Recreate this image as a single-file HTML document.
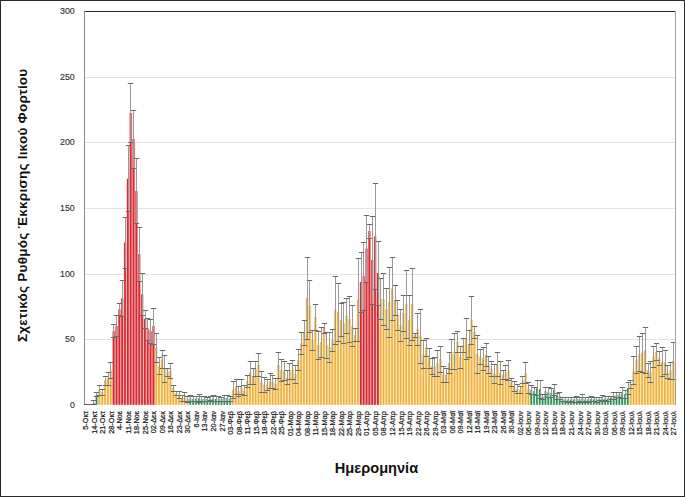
<!DOCTYPE html>
<html><head><meta charset="utf-8"><style>
html,body{margin:0;padding:0;background:#fff;}
svg{display:block;}
text{font-family:"Liberation Sans",sans-serif;}
</style></head><body>
<svg width="685" height="497" viewBox="0 0 685 497">
<rect x="0" y="0" width="685" height="497" fill="#fff"/>
<g stroke="#e3e3e3" stroke-width="1" fill="none"><path d="M84 77.5H675"/><path d="M84 142.5H675"/><path d="M84 208.5H675"/><path d="M84 274.5H675"/><path d="M84 339.5H675"/></g>
<g shape-rendering="auto"><rect x="92.52" y="403.0" width="2.84" height="1.8" fill="#c4f2da"/><rect x="92.87" y="403.0" width="1.59" height="1.8" fill="#2f8a55"/><rect x="95.37" y="394.5" width="2.84" height="10.3" fill="#c4f2da"/><rect x="95.72" y="394.5" width="1.59" height="10.3" fill="#2f8a55"/><rect x="98.21" y="390.5" width="2.84" height="14.3" fill="#fde6a6"/><rect x="98.56" y="390.5" width="1.59" height="14.3" fill="#eeae44"/><rect x="101.05" y="392.0" width="2.84" height="12.8" fill="#fde6a6"/><rect x="101.40" y="392.0" width="1.59" height="12.8" fill="#eeae44"/><rect x="103.89" y="380.5" width="2.84" height="24.3" fill="#fde6a6"/><rect x="104.24" y="380.5" width="1.59" height="24.3" fill="#eeae44"/><rect x="106.73" y="379.0" width="2.84" height="25.8" fill="#fde6a6"/><rect x="107.08" y="379.0" width="1.59" height="25.8" fill="#eeae44"/><rect x="109.57" y="370.5" width="2.84" height="34.3" fill="#fde6a6"/><rect x="109.92" y="370.5" width="1.59" height="34.3" fill="#eeae44"/><rect x="112.41" y="331.0" width="2.84" height="73.8" fill="#f5a8aa"/><rect x="112.76" y="331.0" width="1.70" height="73.8" fill="#d62a32"/><rect x="115.25" y="326.0" width="2.84" height="78.8" fill="#f5a8aa"/><rect x="115.60" y="326.0" width="1.70" height="78.8" fill="#d62a32"/><rect x="118.10" y="309.4" width="2.84" height="95.4" fill="#f5a8aa"/><rect x="118.45" y="309.4" width="1.70" height="95.4" fill="#d62a32"/><rect x="120.94" y="298.3" width="2.84" height="106.5" fill="#f5a8aa"/><rect x="121.29" y="298.3" width="1.70" height="106.5" fill="#d62a32"/><rect x="123.78" y="242.6" width="2.84" height="162.2" fill="#f5a8aa"/><rect x="124.13" y="242.6" width="1.70" height="162.2" fill="#d62a32"/><rect x="126.62" y="178.8" width="2.84" height="226.0" fill="#f5a8aa"/><rect x="126.97" y="178.8" width="1.70" height="226.0" fill="#d62a32"/><rect x="129.46" y="113.0" width="2.84" height="291.8" fill="#f5a8aa"/><rect x="129.81" y="113.0" width="1.70" height="291.8" fill="#d62a32"/><rect x="132.30" y="139.0" width="2.84" height="265.8" fill="#f5a8aa"/><rect x="132.65" y="139.0" width="1.70" height="265.8" fill="#d62a32"/><rect x="135.14" y="191.0" width="2.84" height="213.8" fill="#f5a8aa"/><rect x="135.49" y="191.0" width="1.70" height="213.8" fill="#d62a32"/><rect x="137.99" y="254.0" width="2.84" height="150.8" fill="#f5a8aa"/><rect x="138.34" y="254.0" width="1.70" height="150.8" fill="#d62a32"/><rect x="140.83" y="294.4" width="2.84" height="110.4" fill="#f5a8aa"/><rect x="141.18" y="294.4" width="1.70" height="110.4" fill="#d62a32"/><rect x="143.67" y="319.0" width="2.84" height="85.8" fill="#f5a8aa"/><rect x="144.02" y="319.0" width="1.70" height="85.8" fill="#d62a32"/><rect x="146.51" y="329.0" width="2.84" height="75.8" fill="#f5a8aa"/><rect x="146.86" y="329.0" width="1.70" height="75.8" fill="#d62a32"/><rect x="149.35" y="331.0" width="2.84" height="73.8" fill="#f5a8aa"/><rect x="149.70" y="331.0" width="1.70" height="73.8" fill="#d62a32"/><rect x="152.19" y="326.0" width="2.84" height="78.8" fill="#f5a8aa"/><rect x="152.54" y="326.0" width="1.70" height="78.8" fill="#d62a32"/><rect x="155.03" y="348.0" width="2.84" height="56.8" fill="#fde6a6"/><rect x="155.38" y="348.0" width="1.59" height="56.8" fill="#eeae44"/><rect x="157.88" y="366.0" width="2.84" height="38.8" fill="#fde6a6"/><rect x="158.22" y="366.0" width="1.59" height="38.8" fill="#eeae44"/><rect x="160.72" y="359.3" width="2.84" height="45.5" fill="#fde6a6"/><rect x="161.07" y="359.3" width="1.59" height="45.5" fill="#eeae44"/><rect x="163.56" y="368.8" width="2.84" height="36.0" fill="#fde6a6"/><rect x="163.91" y="368.8" width="1.59" height="36.0" fill="#eeae44"/><rect x="166.40" y="372.0" width="2.84" height="32.8" fill="#fde6a6"/><rect x="166.75" y="372.0" width="1.59" height="32.8" fill="#eeae44"/><rect x="169.24" y="370.8" width="2.84" height="34.0" fill="#fde6a6"/><rect x="169.59" y="370.8" width="1.59" height="34.0" fill="#eeae44"/><rect x="172.08" y="388.0" width="2.84" height="16.8" fill="#fde6a6"/><rect x="172.43" y="388.0" width="1.59" height="16.8" fill="#eeae44"/><rect x="174.92" y="393.4" width="2.84" height="11.4" fill="#fde6a6"/><rect x="175.27" y="393.4" width="1.59" height="11.4" fill="#eeae44"/><rect x="177.76" y="394.7" width="2.84" height="10.1" fill="#fde6a6"/><rect x="178.11" y="394.7" width="1.59" height="10.1" fill="#eeae44"/><rect x="180.61" y="398.0" width="2.84" height="6.8" fill="#fde6a6"/><rect x="180.96" y="398.0" width="1.59" height="6.8" fill="#eeae44"/><rect x="183.45" y="396.8" width="2.84" height="8.0" fill="#fde6a6"/><rect x="183.80" y="396.8" width="1.59" height="8.0" fill="#eeae44"/><rect x="186.29" y="399.0" width="2.84" height="5.8" fill="#fde6a6"/><rect x="186.64" y="399.0" width="1.59" height="5.8" fill="#eeae44"/><rect x="189.13" y="398.4" width="2.84" height="6.4" fill="#c4f2da"/><rect x="189.48" y="398.4" width="1.59" height="6.4" fill="#2f8a55"/><rect x="191.97" y="399.0" width="2.84" height="5.8" fill="#c4f2da"/><rect x="192.32" y="399.0" width="1.59" height="5.8" fill="#2f8a55"/><rect x="194.81" y="398.5" width="2.84" height="6.3" fill="#c4f2da"/><rect x="195.16" y="398.5" width="1.59" height="6.3" fill="#2f8a55"/><rect x="197.65" y="398.5" width="2.84" height="6.3" fill="#c4f2da"/><rect x="198.00" y="398.5" width="1.59" height="6.3" fill="#2f8a55"/><rect x="200.50" y="399.0" width="2.84" height="5.8" fill="#c4f2da"/><rect x="200.85" y="399.0" width="1.59" height="5.8" fill="#2f8a55"/><rect x="203.34" y="398.5" width="2.84" height="6.3" fill="#c4f2da"/><rect x="203.69" y="398.5" width="1.59" height="6.3" fill="#2f8a55"/><rect x="206.18" y="399.0" width="2.84" height="5.8" fill="#c4f2da"/><rect x="206.53" y="399.0" width="1.59" height="5.8" fill="#2f8a55"/><rect x="209.02" y="398.5" width="2.84" height="6.3" fill="#c4f2da"/><rect x="209.37" y="398.5" width="1.59" height="6.3" fill="#2f8a55"/><rect x="211.86" y="398.5" width="2.84" height="6.3" fill="#c4f2da"/><rect x="212.21" y="398.5" width="1.59" height="6.3" fill="#2f8a55"/><rect x="214.70" y="399.0" width="2.84" height="5.8" fill="#c4f2da"/><rect x="215.05" y="399.0" width="1.59" height="5.8" fill="#2f8a55"/><rect x="217.54" y="398.5" width="2.84" height="6.3" fill="#c4f2da"/><rect x="217.89" y="398.5" width="1.59" height="6.3" fill="#2f8a55"/><rect x="220.38" y="399.0" width="2.84" height="5.8" fill="#c4f2da"/><rect x="220.73" y="399.0" width="1.59" height="5.8" fill="#2f8a55"/><rect x="223.23" y="398.0" width="2.84" height="6.8" fill="#c4f2da"/><rect x="223.58" y="398.0" width="1.59" height="6.8" fill="#2f8a55"/><rect x="226.07" y="398.0" width="2.84" height="6.8" fill="#c4f2da"/><rect x="226.42" y="398.0" width="1.59" height="6.8" fill="#2f8a55"/><rect x="228.91" y="398.5" width="2.84" height="6.3" fill="#c4f2da"/><rect x="229.26" y="398.5" width="1.59" height="6.3" fill="#2f8a55"/><rect x="231.75" y="389.8" width="2.84" height="15.0" fill="#fde6a6"/><rect x="232.10" y="389.8" width="1.59" height="15.0" fill="#eeae44"/><rect x="234.59" y="387.4" width="2.84" height="17.4" fill="#fde6a6"/><rect x="234.94" y="387.4" width="1.59" height="17.4" fill="#eeae44"/><rect x="237.43" y="391.0" width="2.84" height="13.8" fill="#fde6a6"/><rect x="237.78" y="391.0" width="1.59" height="13.8" fill="#eeae44"/><rect x="240.27" y="386.7" width="2.84" height="18.1" fill="#fde6a6"/><rect x="240.62" y="386.7" width="1.59" height="18.1" fill="#eeae44"/><rect x="243.12" y="390.5" width="2.84" height="14.3" fill="#fde6a6"/><rect x="243.47" y="390.5" width="1.59" height="14.3" fill="#eeae44"/><rect x="245.96" y="381.4" width="2.84" height="23.4" fill="#fde6a6"/><rect x="246.31" y="381.4" width="1.59" height="23.4" fill="#eeae44"/><rect x="248.80" y="373.0" width="2.84" height="31.8" fill="#fde6a6"/><rect x="249.15" y="373.0" width="1.59" height="31.8" fill="#eeae44"/><rect x="251.64" y="376.0" width="2.84" height="28.8" fill="#fde6a6"/><rect x="251.99" y="376.0" width="1.59" height="28.8" fill="#eeae44"/><rect x="254.48" y="369.0" width="2.84" height="35.8" fill="#fde6a6"/><rect x="254.83" y="369.0" width="1.59" height="35.8" fill="#eeae44"/><rect x="257.32" y="365.0" width="2.84" height="39.8" fill="#fde6a6"/><rect x="257.67" y="365.0" width="1.59" height="39.8" fill="#eeae44"/><rect x="260.16" y="382.0" width="2.84" height="22.8" fill="#fde6a6"/><rect x="260.51" y="382.0" width="1.59" height="22.8" fill="#eeae44"/><rect x="263.00" y="384.8" width="2.84" height="20.0" fill="#fde6a6"/><rect x="263.35" y="384.8" width="1.59" height="20.0" fill="#eeae44"/><rect x="265.85" y="384.8" width="2.84" height="20.0" fill="#fde6a6"/><rect x="266.20" y="384.8" width="1.59" height="20.0" fill="#eeae44"/><rect x="268.69" y="381.4" width="2.84" height="23.4" fill="#fde6a6"/><rect x="269.04" y="381.4" width="1.59" height="23.4" fill="#eeae44"/><rect x="271.53" y="381.8" width="2.84" height="23.0" fill="#fde6a6"/><rect x="271.88" y="381.8" width="1.59" height="23.0" fill="#eeae44"/><rect x="274.37" y="383.8" width="2.84" height="21.0" fill="#fde6a6"/><rect x="274.72" y="383.8" width="1.59" height="21.0" fill="#eeae44"/><rect x="277.21" y="365.0" width="2.84" height="39.8" fill="#fde6a6"/><rect x="277.56" y="365.0" width="1.59" height="39.8" fill="#eeae44"/><rect x="280.05" y="370.3" width="2.84" height="34.5" fill="#fde6a6"/><rect x="280.40" y="370.3" width="1.59" height="34.5" fill="#eeae44"/><rect x="282.89" y="371.0" width="2.84" height="33.8" fill="#fde6a6"/><rect x="283.24" y="371.0" width="1.59" height="33.8" fill="#eeae44"/><rect x="285.74" y="377.7" width="2.84" height="27.1" fill="#fde6a6"/><rect x="286.09" y="377.7" width="1.59" height="27.1" fill="#eeae44"/><rect x="288.58" y="371.3" width="2.84" height="33.5" fill="#fde6a6"/><rect x="288.93" y="371.3" width="1.59" height="33.5" fill="#eeae44"/><rect x="291.42" y="369.8" width="2.84" height="35.0" fill="#fde6a6"/><rect x="291.77" y="369.8" width="1.59" height="35.0" fill="#eeae44"/><rect x="294.26" y="374.3" width="2.84" height="30.5" fill="#fde6a6"/><rect x="294.61" y="374.3" width="1.59" height="30.5" fill="#eeae44"/><rect x="297.10" y="359.8" width="2.84" height="45.0" fill="#fde6a6"/><rect x="297.45" y="359.8" width="1.59" height="45.0" fill="#eeae44"/><rect x="299.94" y="343.4" width="2.84" height="61.4" fill="#fde6a6"/><rect x="300.29" y="343.4" width="1.59" height="61.4" fill="#eeae44"/><rect x="302.78" y="333.0" width="2.84" height="71.8" fill="#fde6a6"/><rect x="303.13" y="333.0" width="1.59" height="71.8" fill="#eeae44"/><rect x="305.62" y="298.0" width="2.84" height="106.8" fill="#fde6a6"/><rect x="305.98" y="298.0" width="1.59" height="106.8" fill="#eeae44"/><rect x="308.47" y="306.0" width="2.84" height="98.8" fill="#fde6a6"/><rect x="308.82" y="306.0" width="1.59" height="98.8" fill="#eeae44"/><rect x="311.31" y="340.0" width="2.84" height="64.8" fill="#fde6a6"/><rect x="311.66" y="340.0" width="1.59" height="64.8" fill="#eeae44"/><rect x="314.15" y="317.0" width="2.84" height="87.8" fill="#fde6a6"/><rect x="314.50" y="317.0" width="1.59" height="87.8" fill="#eeae44"/><rect x="316.99" y="345.0" width="2.84" height="59.8" fill="#fde6a6"/><rect x="317.34" y="345.0" width="1.59" height="59.8" fill="#eeae44"/><rect x="319.83" y="342.0" width="2.84" height="62.8" fill="#fde6a6"/><rect x="320.18" y="342.0" width="1.59" height="62.8" fill="#eeae44"/><rect x="322.67" y="328.0" width="2.84" height="76.8" fill="#fde6a6"/><rect x="323.02" y="328.0" width="1.59" height="76.8" fill="#eeae44"/><rect x="325.51" y="345.0" width="2.84" height="59.8" fill="#fde6a6"/><rect x="325.86" y="345.0" width="1.59" height="59.8" fill="#eeae44"/><rect x="328.36" y="347.0" width="2.84" height="57.8" fill="#fde6a6"/><rect x="328.71" y="347.0" width="1.59" height="57.8" fill="#eeae44"/><rect x="331.20" y="340.0" width="2.84" height="64.8" fill="#fde6a6"/><rect x="331.55" y="340.0" width="1.59" height="64.8" fill="#eeae44"/><rect x="334.04" y="310.0" width="2.84" height="94.8" fill="#fde6a6"/><rect x="334.39" y="310.0" width="1.59" height="94.8" fill="#eeae44"/><rect x="336.88" y="312.0" width="2.84" height="92.8" fill="#fde6a6"/><rect x="337.23" y="312.0" width="1.59" height="92.8" fill="#eeae44"/><rect x="339.72" y="320.0" width="2.84" height="84.8" fill="#fde6a6"/><rect x="340.07" y="320.0" width="1.59" height="84.8" fill="#eeae44"/><rect x="342.56" y="323.0" width="2.84" height="81.8" fill="#fde6a6"/><rect x="342.91" y="323.0" width="1.59" height="81.8" fill="#eeae44"/><rect x="345.40" y="316.0" width="2.84" height="88.8" fill="#fde6a6"/><rect x="345.75" y="316.0" width="1.59" height="88.8" fill="#eeae44"/><rect x="348.25" y="319.0" width="2.84" height="85.8" fill="#fde6a6"/><rect x="348.60" y="319.0" width="1.59" height="85.8" fill="#eeae44"/><rect x="351.09" y="326.0" width="2.84" height="78.8" fill="#fde6a6"/><rect x="351.44" y="326.0" width="1.59" height="78.8" fill="#eeae44"/><rect x="353.93" y="335.0" width="2.84" height="69.8" fill="#fde6a6"/><rect x="354.28" y="335.0" width="1.59" height="69.8" fill="#eeae44"/><rect x="356.77" y="300.0" width="2.84" height="104.8" fill="#fde6a6"/><rect x="357.12" y="300.0" width="1.59" height="104.8" fill="#eeae44"/><rect x="359.61" y="282.0" width="2.84" height="122.8" fill="#f5a8aa"/><rect x="359.96" y="282.0" width="1.70" height="122.8" fill="#d62a32"/><rect x="362.45" y="276.0" width="2.84" height="128.8" fill="#f5a8aa"/><rect x="362.80" y="276.0" width="1.70" height="128.8" fill="#d62a32"/><rect x="365.29" y="248.5" width="2.84" height="156.3" fill="#f5a8aa"/><rect x="365.64" y="248.5" width="1.70" height="156.3" fill="#d62a32"/><rect x="368.13" y="231.0" width="2.84" height="173.8" fill="#f5a8aa"/><rect x="368.48" y="231.0" width="1.70" height="173.8" fill="#d62a32"/><rect x="370.98" y="260.0" width="2.84" height="144.8" fill="#f5a8aa"/><rect x="371.33" y="260.0" width="1.70" height="144.8" fill="#d62a32"/><rect x="373.82" y="236.5" width="2.84" height="168.3" fill="#f5a8aa"/><rect x="374.17" y="236.5" width="1.70" height="168.3" fill="#d62a32"/><rect x="376.66" y="273.0" width="2.84" height="131.8" fill="#f5a8aa"/><rect x="377.01" y="273.0" width="1.70" height="131.8" fill="#d62a32"/><rect x="379.50" y="299.0" width="2.84" height="105.8" fill="#fde6a6"/><rect x="379.85" y="299.0" width="1.59" height="105.8" fill="#eeae44"/><rect x="382.34" y="299.0" width="2.84" height="105.8" fill="#fde6a6"/><rect x="382.69" y="299.0" width="1.59" height="105.8" fill="#eeae44"/><rect x="385.18" y="309.0" width="2.84" height="95.8" fill="#fde6a6"/><rect x="385.53" y="309.0" width="1.59" height="95.8" fill="#eeae44"/><rect x="388.02" y="302.0" width="2.84" height="102.8" fill="#fde6a6"/><rect x="388.37" y="302.0" width="1.59" height="102.8" fill="#eeae44"/><rect x="390.87" y="288.5" width="2.84" height="116.3" fill="#fde6a6"/><rect x="391.22" y="288.5" width="1.59" height="116.3" fill="#eeae44"/><rect x="393.71" y="300.0" width="2.84" height="104.8" fill="#fde6a6"/><rect x="394.06" y="300.0" width="1.59" height="104.8" fill="#eeae44"/><rect x="396.55" y="315.0" width="2.84" height="89.8" fill="#fde6a6"/><rect x="396.90" y="315.0" width="1.59" height="89.8" fill="#eeae44"/><rect x="399.39" y="325.0" width="2.84" height="79.8" fill="#fde6a6"/><rect x="399.74" y="325.0" width="1.59" height="79.8" fill="#eeae44"/><rect x="402.23" y="313.0" width="2.84" height="91.8" fill="#fde6a6"/><rect x="402.58" y="313.0" width="1.59" height="91.8" fill="#eeae44"/><rect x="405.07" y="304.0" width="2.84" height="100.8" fill="#fde6a6"/><rect x="405.42" y="304.0" width="1.59" height="100.8" fill="#eeae44"/><rect x="407.91" y="320.0" width="2.84" height="84.8" fill="#fde6a6"/><rect x="408.26" y="320.0" width="1.59" height="84.8" fill="#eeae44"/><rect x="410.75" y="304.0" width="2.84" height="100.8" fill="#fde6a6"/><rect x="411.10" y="304.0" width="1.59" height="100.8" fill="#eeae44"/><rect x="413.60" y="335.0" width="2.84" height="69.8" fill="#fde6a6"/><rect x="413.95" y="335.0" width="1.59" height="69.8" fill="#eeae44"/><rect x="416.44" y="329.0" width="2.84" height="75.8" fill="#fde6a6"/><rect x="416.79" y="329.0" width="1.59" height="75.8" fill="#eeae44"/><rect x="419.28" y="336.0" width="2.84" height="68.8" fill="#fde6a6"/><rect x="419.63" y="336.0" width="1.59" height="68.8" fill="#eeae44"/><rect x="422.12" y="354.7" width="2.84" height="50.1" fill="#fde6a6"/><rect x="422.47" y="354.7" width="1.59" height="50.1" fill="#eeae44"/><rect x="424.96" y="347.0" width="2.84" height="57.8" fill="#fde6a6"/><rect x="425.31" y="347.0" width="1.59" height="57.8" fill="#eeae44"/><rect x="427.80" y="358.0" width="2.84" height="46.8" fill="#fde6a6"/><rect x="428.15" y="358.0" width="1.59" height="46.8" fill="#eeae44"/><rect x="430.64" y="366.0" width="2.84" height="38.8" fill="#fde6a6"/><rect x="430.99" y="366.0" width="1.59" height="38.8" fill="#eeae44"/><rect x="433.49" y="366.5" width="2.84" height="38.3" fill="#fde6a6"/><rect x="433.84" y="366.5" width="1.59" height="38.3" fill="#eeae44"/><rect x="436.33" y="363.4" width="2.84" height="41.4" fill="#fde6a6"/><rect x="436.68" y="363.4" width="1.59" height="41.4" fill="#eeae44"/><rect x="439.17" y="359.4" width="2.84" height="45.4" fill="#fde6a6"/><rect x="439.52" y="359.4" width="1.59" height="45.4" fill="#eeae44"/><rect x="442.01" y="374.0" width="2.84" height="30.8" fill="#fde6a6"/><rect x="442.36" y="374.0" width="1.59" height="30.8" fill="#eeae44"/><rect x="444.85" y="375.0" width="2.84" height="29.8" fill="#fde6a6"/><rect x="445.20" y="375.0" width="1.59" height="29.8" fill="#eeae44"/><rect x="447.69" y="363.0" width="2.84" height="41.8" fill="#fde6a6"/><rect x="448.04" y="363.0" width="1.59" height="41.8" fill="#eeae44"/><rect x="450.53" y="354.0" width="2.84" height="50.8" fill="#fde6a6"/><rect x="450.88" y="354.0" width="1.59" height="50.8" fill="#eeae44"/><rect x="453.38" y="351.6" width="2.84" height="53.2" fill="#fde6a6"/><rect x="453.73" y="351.6" width="1.59" height="53.2" fill="#eeae44"/><rect x="456.22" y="342.0" width="2.84" height="62.8" fill="#fde6a6"/><rect x="456.57" y="342.0" width="1.59" height="62.8" fill="#eeae44"/><rect x="459.06" y="357.0" width="2.84" height="47.8" fill="#fde6a6"/><rect x="459.41" y="357.0" width="1.59" height="47.8" fill="#eeae44"/><rect x="461.90" y="345.0" width="2.84" height="59.8" fill="#fde6a6"/><rect x="462.25" y="345.0" width="1.59" height="59.8" fill="#eeae44"/><rect x="464.74" y="338.5" width="2.84" height="66.3" fill="#fde6a6"/><rect x="465.09" y="338.5" width="1.59" height="66.3" fill="#eeae44"/><rect x="467.58" y="344.3" width="2.84" height="60.5" fill="#fde6a6"/><rect x="467.93" y="344.3" width="1.59" height="60.5" fill="#eeae44"/><rect x="470.42" y="320.4" width="2.84" height="84.4" fill="#fde6a6"/><rect x="470.77" y="320.4" width="1.59" height="84.4" fill="#eeae44"/><rect x="473.26" y="332.0" width="2.84" height="72.8" fill="#fde6a6"/><rect x="473.61" y="332.0" width="1.59" height="72.8" fill="#eeae44"/><rect x="476.11" y="354.3" width="2.84" height="50.5" fill="#fde6a6"/><rect x="476.46" y="354.3" width="1.59" height="50.5" fill="#eeae44"/><rect x="478.95" y="357.0" width="2.84" height="47.8" fill="#fde6a6"/><rect x="479.30" y="357.0" width="1.59" height="47.8" fill="#eeae44"/><rect x="481.79" y="358.5" width="2.84" height="46.3" fill="#fde6a6"/><rect x="482.14" y="358.5" width="1.59" height="46.3" fill="#eeae44"/><rect x="484.63" y="354.9" width="2.84" height="49.9" fill="#fde6a6"/><rect x="484.98" y="354.9" width="1.59" height="49.9" fill="#eeae44"/><rect x="487.47" y="364.6" width="2.84" height="40.2" fill="#fde6a6"/><rect x="487.82" y="364.6" width="1.59" height="40.2" fill="#eeae44"/><rect x="490.31" y="369.0" width="2.84" height="35.8" fill="#fde6a6"/><rect x="490.66" y="369.0" width="1.59" height="35.8" fill="#eeae44"/><rect x="493.15" y="373.9" width="2.84" height="30.9" fill="#fde6a6"/><rect x="493.50" y="373.9" width="1.59" height="30.9" fill="#eeae44"/><rect x="496.00" y="364.6" width="2.84" height="40.2" fill="#fde6a6"/><rect x="496.35" y="364.6" width="1.59" height="40.2" fill="#eeae44"/><rect x="498.84" y="373.3" width="2.84" height="31.5" fill="#fde6a6"/><rect x="499.19" y="373.3" width="1.59" height="31.5" fill="#eeae44"/><rect x="501.68" y="374.8" width="2.84" height="30.0" fill="#fde6a6"/><rect x="502.03" y="374.8" width="1.59" height="30.0" fill="#eeae44"/><rect x="504.52" y="372.5" width="2.84" height="32.3" fill="#fde6a6"/><rect x="504.87" y="372.5" width="1.59" height="32.3" fill="#eeae44"/><rect x="507.36" y="370.5" width="2.84" height="34.3" fill="#fde6a6"/><rect x="507.71" y="370.5" width="1.59" height="34.3" fill="#eeae44"/><rect x="510.20" y="382.1" width="2.84" height="22.7" fill="#fde6a6"/><rect x="510.55" y="382.1" width="1.59" height="22.7" fill="#eeae44"/><rect x="513.04" y="386.0" width="2.84" height="18.8" fill="#fde6a6"/><rect x="513.39" y="386.0" width="1.59" height="18.8" fill="#eeae44"/><rect x="515.88" y="388.9" width="2.84" height="15.9" fill="#fde6a6"/><rect x="516.23" y="388.9" width="1.59" height="15.9" fill="#eeae44"/><rect x="518.73" y="389.6" width="2.84" height="15.2" fill="#fde6a6"/><rect x="519.08" y="389.6" width="1.59" height="15.2" fill="#eeae44"/><rect x="521.57" y="380.2" width="2.84" height="24.6" fill="#fde6a6"/><rect x="521.92" y="380.2" width="1.59" height="24.6" fill="#eeae44"/><rect x="524.41" y="373.0" width="2.84" height="31.8" fill="#fde6a6"/><rect x="524.76" y="373.0" width="1.59" height="31.8" fill="#eeae44"/><rect x="527.25" y="388.3" width="2.84" height="16.5" fill="#fde6a6"/><rect x="527.60" y="388.3" width="1.59" height="16.5" fill="#eeae44"/><rect x="530.09" y="389.8" width="2.84" height="15.0" fill="#c4f2da"/><rect x="530.44" y="389.8" width="1.59" height="15.0" fill="#2f8a55"/><rect x="532.93" y="391.2" width="2.84" height="13.6" fill="#c4f2da"/><rect x="533.28" y="391.2" width="1.59" height="13.6" fill="#2f8a55"/><rect x="535.77" y="388.3" width="2.84" height="16.5" fill="#c4f2da"/><rect x="536.12" y="388.3" width="1.59" height="16.5" fill="#2f8a55"/><rect x="538.62" y="389.3" width="2.84" height="15.5" fill="#c4f2da"/><rect x="538.97" y="389.3" width="1.59" height="15.5" fill="#2f8a55"/><rect x="541.46" y="396.6" width="2.84" height="8.2" fill="#c4f2da"/><rect x="541.81" y="396.6" width="1.59" height="8.2" fill="#2f8a55"/><rect x="544.30" y="391.2" width="2.84" height="13.6" fill="#c4f2da"/><rect x="544.65" y="391.2" width="1.59" height="13.6" fill="#2f8a55"/><rect x="547.14" y="392.3" width="2.84" height="12.5" fill="#c4f2da"/><rect x="547.49" y="392.3" width="1.59" height="12.5" fill="#2f8a55"/><rect x="549.98" y="392.9" width="2.84" height="11.9" fill="#c4f2da"/><rect x="550.33" y="392.9" width="1.59" height="11.9" fill="#2f8a55"/><rect x="552.82" y="389.8" width="2.84" height="15.0" fill="#c4f2da"/><rect x="553.17" y="389.8" width="1.59" height="15.0" fill="#2f8a55"/><rect x="555.66" y="396.0" width="2.84" height="8.8" fill="#c4f2da"/><rect x="556.01" y="396.0" width="1.59" height="8.8" fill="#2f8a55"/><rect x="558.50" y="396.0" width="2.84" height="8.8" fill="#c4f2da"/><rect x="558.85" y="396.0" width="1.59" height="8.8" fill="#2f8a55"/><rect x="561.35" y="399.0" width="2.84" height="5.8" fill="#c4f2da"/><rect x="561.70" y="399.0" width="1.59" height="5.8" fill="#2f8a55"/><rect x="564.19" y="399.5" width="2.84" height="5.3" fill="#c4f2da"/><rect x="564.54" y="399.5" width="1.59" height="5.3" fill="#2f8a55"/><rect x="567.03" y="399.5" width="2.84" height="5.3" fill="#c4f2da"/><rect x="567.38" y="399.5" width="1.59" height="5.3" fill="#2f8a55"/><rect x="569.87" y="399.5" width="2.84" height="5.3" fill="#c4f2da"/><rect x="570.22" y="399.5" width="1.59" height="5.3" fill="#2f8a55"/><rect x="572.71" y="399.5" width="2.84" height="5.3" fill="#c4f2da"/><rect x="573.06" y="399.5" width="1.59" height="5.3" fill="#2f8a55"/><rect x="575.55" y="399.0" width="2.84" height="5.8" fill="#c4f2da"/><rect x="575.90" y="399.0" width="1.59" height="5.8" fill="#2f8a55"/><rect x="578.39" y="399.5" width="2.84" height="5.3" fill="#c4f2da"/><rect x="578.74" y="399.5" width="1.59" height="5.3" fill="#2f8a55"/><rect x="581.24" y="398.3" width="2.84" height="6.5" fill="#c4f2da"/><rect x="581.59" y="398.3" width="1.59" height="6.5" fill="#2f8a55"/><rect x="584.08" y="399.5" width="2.84" height="5.3" fill="#c4f2da"/><rect x="584.43" y="399.5" width="1.59" height="5.3" fill="#2f8a55"/><rect x="586.92" y="399.5" width="2.84" height="5.3" fill="#c4f2da"/><rect x="587.27" y="399.5" width="1.59" height="5.3" fill="#2f8a55"/><rect x="589.76" y="399.0" width="2.84" height="5.8" fill="#c4f2da"/><rect x="590.11" y="399.0" width="1.59" height="5.8" fill="#2f8a55"/><rect x="592.60" y="399.5" width="2.84" height="5.3" fill="#c4f2da"/><rect x="592.95" y="399.5" width="1.59" height="5.3" fill="#2f8a55"/><rect x="595.44" y="399.5" width="2.84" height="5.3" fill="#c4f2da"/><rect x="595.79" y="399.5" width="1.59" height="5.3" fill="#2f8a55"/><rect x="598.28" y="399.0" width="2.84" height="5.8" fill="#c4f2da"/><rect x="598.63" y="399.0" width="1.59" height="5.8" fill="#2f8a55"/><rect x="601.12" y="398.3" width="2.84" height="6.5" fill="#c4f2da"/><rect x="601.48" y="398.3" width="1.59" height="6.5" fill="#2f8a55"/><rect x="603.97" y="398.5" width="2.84" height="6.3" fill="#c4f2da"/><rect x="604.32" y="398.5" width="1.59" height="6.3" fill="#2f8a55"/><rect x="606.81" y="398.5" width="2.84" height="6.3" fill="#c4f2da"/><rect x="607.16" y="398.5" width="1.59" height="6.3" fill="#2f8a55"/><rect x="609.65" y="398.0" width="2.84" height="6.8" fill="#c4f2da"/><rect x="610.00" y="398.0" width="1.59" height="6.8" fill="#2f8a55"/><rect x="612.49" y="395.8" width="2.84" height="9.0" fill="#c4f2da"/><rect x="612.84" y="395.8" width="1.59" height="9.0" fill="#2f8a55"/><rect x="615.33" y="395.0" width="2.84" height="9.8" fill="#c4f2da"/><rect x="615.68" y="395.0" width="1.59" height="9.8" fill="#2f8a55"/><rect x="618.17" y="394.5" width="2.84" height="10.3" fill="#c4f2da"/><rect x="618.52" y="394.5" width="1.59" height="10.3" fill="#2f8a55"/><rect x="621.01" y="392.5" width="2.84" height="12.3" fill="#c4f2da"/><rect x="621.36" y="392.5" width="1.59" height="12.3" fill="#2f8a55"/><rect x="623.86" y="394.0" width="2.84" height="10.8" fill="#c4f2da"/><rect x="624.21" y="394.0" width="1.59" height="10.8" fill="#2f8a55"/><rect x="626.70" y="388.3" width="2.84" height="16.5" fill="#c4f2da"/><rect x="627.05" y="388.3" width="1.59" height="16.5" fill="#2f8a55"/><rect x="629.54" y="384.0" width="2.84" height="20.8" fill="#fde6a6"/><rect x="629.89" y="384.0" width="1.59" height="20.8" fill="#eeae44"/><rect x="632.38" y="370.6" width="2.84" height="34.2" fill="#fde6a6"/><rect x="632.73" y="370.6" width="1.59" height="34.2" fill="#eeae44"/><rect x="635.22" y="360.0" width="2.84" height="44.8" fill="#fde6a6"/><rect x="635.57" y="360.0" width="1.59" height="44.8" fill="#eeae44"/><rect x="638.06" y="354.0" width="2.84" height="50.8" fill="#fde6a6"/><rect x="638.41" y="354.0" width="1.59" height="50.8" fill="#eeae44"/><rect x="640.90" y="352.7" width="2.84" height="52.1" fill="#fde6a6"/><rect x="641.25" y="352.7" width="1.59" height="52.1" fill="#eeae44"/><rect x="643.75" y="350.3" width="2.84" height="54.5" fill="#fde6a6"/><rect x="644.10" y="350.3" width="1.59" height="54.5" fill="#eeae44"/><rect x="646.59" y="370.4" width="2.84" height="34.4" fill="#fde6a6"/><rect x="646.94" y="370.4" width="1.59" height="34.4" fill="#eeae44"/><rect x="649.43" y="371.8" width="2.84" height="33.0" fill="#fde6a6"/><rect x="649.78" y="371.8" width="1.59" height="33.0" fill="#eeae44"/><rect x="652.27" y="356.6" width="2.84" height="48.2" fill="#fde6a6"/><rect x="652.62" y="356.6" width="1.59" height="48.2" fill="#eeae44"/><rect x="655.11" y="351.7" width="2.84" height="53.1" fill="#fde6a6"/><rect x="655.46" y="351.7" width="1.59" height="53.1" fill="#eeae44"/><rect x="657.95" y="358.0" width="2.84" height="46.8" fill="#fde6a6"/><rect x="658.30" y="358.0" width="1.59" height="46.8" fill="#eeae44"/><rect x="660.79" y="362.0" width="2.84" height="42.8" fill="#fde6a6"/><rect x="661.14" y="362.0" width="1.59" height="42.8" fill="#eeae44"/><rect x="663.63" y="362.3" width="2.84" height="42.5" fill="#fde6a6"/><rect x="663.98" y="362.3" width="1.59" height="42.5" fill="#eeae44"/><rect x="666.48" y="372.4" width="2.84" height="32.4" fill="#fde6a6"/><rect x="666.83" y="372.4" width="1.59" height="32.4" fill="#eeae44"/><rect x="669.32" y="370.7" width="2.84" height="34.1" fill="#fde6a6"/><rect x="669.67" y="370.7" width="1.59" height="34.1" fill="#eeae44"/><rect x="672.16" y="360.8" width="2.84" height="44.0" fill="#fde6a6"/><rect x="672.51" y="360.8" width="1.59" height="44.0" fill="#eeae44"/></g>
<g stroke="#9a9a9a" stroke-width="1" fill="none"><path d="M93.50 400.5V404.5"/><path d="M96.50 392.5V396.5"/><path d="M99.50 385.5V395.5"/><path d="M102.50 389.5V395.5"/><path d="M105.50 376.5V385.5"/><path d="M108.50 372.5V385.5"/><path d="M110.50 362.5V378.5"/><path d="M113.50 324.5V337.5"/><path d="M116.50 315.5V336.5"/><path d="M119.50 303.5V315.5"/><path d="M122.50 280.5V316.5"/><path d="M125.50 217.5V268.5"/><path d="M128.50 145.5V211.5"/><path d="M130.50 83.5V142.5"/><path d="M133.50 110.5V168.5"/><path d="M136.50 158.5V223.5"/><path d="M139.50 227.5V281.5"/><path d="M142.50 273.5V315.5"/><path d="M145.50 310.5V328.5"/><path d="M147.50 318.5V340.5"/><path d="M150.50 319.5V343.5"/><path d="M153.50 308.5V344.5"/><path d="M156.50 333.5V362.5"/><path d="M159.50 357.5V374.5"/><path d="M162.50 350.5V368.5"/><path d="M164.50 355.5V382.5"/><path d="M167.50 368.5V376.5"/><path d="M170.50 363.5V378.5"/><path d="M173.50 385.5V391.5"/><path d="M176.50 391.5V395.5"/><path d="M179.50 391.5V398.5"/><path d="M182.50 395.5V401.5"/><path d="M184.50 392.5V401.5"/><path d="M187.50 396.5V402.5"/><path d="M190.50 395.5V401.5"/><path d="M193.50 396.5V401.5"/><path d="M196.50 396.5V401.5"/><path d="M199.50 394.5V402.5"/><path d="M201.50 396.5V401.5"/><path d="M204.50 396.5V401.5"/><path d="M207.50 397.5V401.5"/><path d="M210.50 396.5V400.5"/><path d="M213.50 395.5V401.5"/><path d="M216.50 396.5V401.5"/><path d="M218.50 396.5V401.5"/><path d="M221.50 397.5V401.5"/><path d="M224.50 395.5V401.5"/><path d="M227.50 395.5V401.5"/><path d="M230.50 396.5V401.5"/><path d="M233.50 381.5V398.5"/><path d="M236.50 379.5V394.5"/><path d="M238.50 386.5V396.5"/><path d="M241.50 379.5V394.5"/><path d="M244.50 385.5V395.5"/><path d="M247.50 375.5V387.5"/><path d="M250.50 361.5V384.5"/><path d="M253.50 368.5V384.5"/><path d="M255.50 361.5V376.5"/><path d="M258.50 353.5V376.5"/><path d="M261.50 371.5V392.5"/><path d="M264.50 377.5V392.5"/><path d="M267.50 379.5V390.5"/><path d="M270.50 373.5V388.5"/><path d="M272.50 375.5V388.5"/><path d="M275.50 378.5V389.5"/><path d="M278.50 352.5V378.5"/><path d="M281.50 359.5V381.5"/><path d="M284.50 361.5V380.5"/><path d="M287.50 370.5V384.5"/><path d="M289.50 363.5V379.5"/><path d="M292.50 360.5V379.5"/><path d="M295.50 365.5V383.5"/><path d="M298.50 349.5V370.5"/><path d="M301.50 332.5V354.5"/><path d="M304.50 320.5V345.5"/><path d="M307.50 257.5V339.5"/><path d="M309.50 280.5V332.5"/><path d="M312.50 330.5V350.5"/><path d="M315.50 304.5V330.5"/><path d="M318.50 331.5V359.5"/><path d="M321.50 327.5V357.5"/><path d="M324.50 323.5V333.5"/><path d="M326.50 332.5V358.5"/><path d="M329.50 332.5V362.5"/><path d="M332.50 329.5V351.5"/><path d="M335.50 276.5V344.5"/><path d="M338.50 283.5V341.5"/><path d="M341.50 303.5V336.5"/><path d="M343.50 302.5V343.5"/><path d="M346.50 298.5V333.5"/><path d="M349.50 296.5V342.5"/><path d="M352.50 305.5V346.5"/><path d="M355.50 328.5V341.5"/><path d="M358.50 258.5V341.5"/><path d="M361.50 252.5V312.5"/><path d="M363.50 242.5V310.5"/><path d="M366.50 215.5V282.5"/><path d="M369.50 224.5V238.5"/><path d="M372.50 216.5V304.5"/><path d="M375.50 183.5V289.5"/><path d="M378.50 241.5V305.5"/><path d="M380.50 278.5V319.5"/><path d="M383.50 273.5V325.5"/><path d="M386.50 288.5V329.5"/><path d="M389.50 267.5V337.5"/><path d="M392.50 257.5V320.5"/><path d="M395.50 285.5V315.5"/><path d="M397.50 300.5V330.5"/><path d="M400.50 309.5V341.5"/><path d="M403.50 295.5V331.5"/><path d="M406.50 270.5V338.5"/><path d="M409.50 295.5V345.5"/><path d="M412.50 268.5V340.5"/><path d="M415.50 333.5V337.5"/><path d="M417.50 313.5V345.5"/><path d="M420.50 309.5V363.5"/><path d="M423.50 340.5V368.5"/><path d="M426.50 338.5V356.5"/><path d="M429.50 348.5V368.5"/><path d="M432.50 358.5V374.5"/><path d="M434.50 357.5V376.5"/><path d="M437.50 350.5V376.5"/><path d="M440.50 346.5V372.5"/><path d="M443.50 366.5V382.5"/><path d="M446.50 368.5V382.5"/><path d="M449.50 352.5V373.5"/><path d="M451.50 339.5V369.5"/><path d="M454.50 333.5V369.5"/><path d="M457.50 331.5V352.5"/><path d="M460.50 346.5V368.5"/><path d="M463.50 338.5V352.5"/><path d="M466.50 318.5V359.5"/><path d="M469.50 330.5V357.5"/><path d="M471.50 296.5V344.5"/><path d="M474.50 326.5V338.5"/><path d="M477.50 335.5V373.5"/><path d="M480.50 349.5V364.5"/><path d="M483.50 347.5V370.5"/><path d="M486.50 343.5V366.5"/><path d="M488.50 356.5V373.5"/><path d="M491.50 361.5V376.5"/><path d="M494.50 364.5V383.5"/><path d="M497.50 352.5V376.5"/><path d="M500.50 361.5V384.5"/><path d="M503.50 370.5V379.5"/><path d="M505.50 365.5V379.5"/><path d="M508.50 360.5V380.5"/><path d="M511.50 378.5V386.5"/><path d="M514.50 381.5V391.5"/><path d="M517.50 384.5V393.5"/><path d="M520.50 386.5V393.5"/><path d="M522.50 376.5V383.5"/><path d="M525.50 362.5V383.5"/><path d="M528.50 382.5V393.5"/><path d="M531.50 385.5V394.5"/><path d="M534.50 387.5V394.5"/><path d="M537.50 380.5V395.5"/><path d="M540.50 380.5V398.5"/><path d="M542.50 394.5V399.5"/><path d="M545.50 387.5V394.5"/><path d="M548.50 387.5V397.5"/><path d="M551.50 388.5V397.5"/><path d="M554.50 384.5V395.5"/><path d="M557.50 393.5V399.5"/><path d="M559.50 392.5V399.5"/><path d="M562.50 397.5V401.5"/><path d="M565.50 397.5V401.5"/><path d="M568.50 397.5V402.5"/><path d="M571.50 397.5V401.5"/><path d="M574.50 397.5V402.5"/><path d="M576.50 396.5V402.5"/><path d="M579.50 397.5V401.5"/><path d="M582.50 394.5V402.5"/><path d="M585.50 397.5V401.5"/><path d="M588.50 397.5V402.5"/><path d="M591.50 396.5V401.5"/><path d="M594.50 397.5V401.5"/><path d="M596.50 397.5V402.5"/><path d="M599.50 397.5V400.5"/><path d="M602.50 395.5V401.5"/><path d="M605.50 396.5V400.5"/><path d="M608.50 396.5V401.5"/><path d="M611.50 396.5V399.5"/><path d="M613.50 392.5V399.5"/><path d="M616.50 392.5V397.5"/><path d="M619.50 392.5V397.5"/><path d="M622.50 387.5V398.5"/><path d="M625.50 390.5V398.5"/><path d="M628.50 382.5V394.5"/><path d="M630.50 380.5V388.5"/><path d="M633.50 356.5V384.5"/><path d="M636.50 346.5V373.5"/><path d="M639.50 336.5V371.5"/><path d="M642.50 333.5V372.5"/><path d="M645.50 327.5V373.5"/><path d="M648.50 363.5V377.5"/><path d="M650.50 361.5V382.5"/><path d="M653.50 346.5V367.5"/><path d="M656.50 343.5V360.5"/><path d="M659.50 351.5V365.5"/><path d="M662.50 347.5V376.5"/><path d="M665.50 350.5V374.5"/><path d="M667.50 365.5V378.5"/><path d="M670.50 362.5V379.5"/><path d="M673.50 342.5V379.5"/></g>
<g stroke="#6a6a6a" stroke-width="1" fill="none"><path d="M90.80 400.5H96.20M90.80 404.5H96.20"/><path d="M93.80 392.5H99.20M93.80 396.5H99.20"/><path d="M96.80 385.5H102.20M96.80 395.5H102.20"/><path d="M99.80 389.5H105.20M99.80 395.5H105.20"/><path d="M102.80 376.5H108.20M102.80 385.5H108.20"/><path d="M105.80 372.5H111.20M105.80 385.5H111.20"/><path d="M107.80 362.5H113.20M107.80 378.5H113.20"/><path d="M110.80 324.5H116.20M110.80 337.5H116.20"/><path d="M113.80 315.5H119.20M113.80 336.5H119.20"/><path d="M116.80 303.5H122.20M116.80 315.5H122.20"/><path d="M119.80 280.5H125.20M119.80 316.5H125.20"/><path d="M122.80 217.5H128.20M122.80 268.5H128.20"/><path d="M125.80 145.5H131.20M125.80 211.5H131.20"/><path d="M127.80 83.5H133.20M127.80 142.5H133.20"/><path d="M130.80 110.5H136.20M130.80 168.5H136.20"/><path d="M133.80 158.5H139.20M133.80 223.5H139.20"/><path d="M136.80 227.5H142.20M136.80 281.5H142.20"/><path d="M139.80 273.5H145.20M139.80 315.5H145.20"/><path d="M142.80 310.5H148.20M142.80 328.5H148.20"/><path d="M144.80 318.5H150.20M144.80 340.5H150.20"/><path d="M147.80 319.5H153.20M147.80 343.5H153.20"/><path d="M150.80 308.5H156.20M150.80 344.5H156.20"/><path d="M153.80 333.5H159.20M153.80 362.5H159.20"/><path d="M156.80 357.5H162.20M156.80 374.5H162.20"/><path d="M159.80 350.5H165.20M159.80 368.5H165.20"/><path d="M161.80 355.5H167.20M161.80 382.5H167.20"/><path d="M164.80 368.5H170.20M164.80 376.5H170.20"/><path d="M167.80 363.5H173.20M167.80 378.5H173.20"/><path d="M170.80 385.5H176.20M170.80 391.5H176.20"/><path d="M173.80 391.5H179.20M173.80 395.5H179.20"/><path d="M176.80 391.5H182.20M176.80 398.5H182.20"/><path d="M179.80 395.5H185.20M179.80 401.5H185.20"/><path d="M181.80 392.5H187.20M181.80 401.5H187.20"/><path d="M184.80 396.5H190.20M184.80 402.5H190.20"/><path d="M187.80 395.5H193.20M187.80 401.5H193.20"/><path d="M190.80 396.5H196.20M190.80 401.5H196.20"/><path d="M193.80 396.5H199.20M193.80 401.5H199.20"/><path d="M196.80 394.5H202.20M196.80 402.5H202.20"/><path d="M198.80 396.5H204.20M198.80 401.5H204.20"/><path d="M201.80 396.5H207.20M201.80 401.5H207.20"/><path d="M204.80 397.5H210.20M204.80 401.5H210.20"/><path d="M207.80 396.5H213.20M207.80 400.5H213.20"/><path d="M210.80 395.5H216.20M210.80 401.5H216.20"/><path d="M213.80 396.5H219.20M213.80 401.5H219.20"/><path d="M215.80 396.5H221.20M215.80 401.5H221.20"/><path d="M218.80 397.5H224.20M218.80 401.5H224.20"/><path d="M221.80 395.5H227.20M221.80 401.5H227.20"/><path d="M224.80 395.5H230.20M224.80 401.5H230.20"/><path d="M227.80 396.5H233.20M227.80 401.5H233.20"/><path d="M230.80 381.5H236.20M230.80 398.5H236.20"/><path d="M233.80 379.5H239.20M233.80 394.5H239.20"/><path d="M235.80 386.5H241.20M235.80 396.5H241.20"/><path d="M238.80 379.5H244.20M238.80 394.5H244.20"/><path d="M241.80 385.5H247.20M241.80 395.5H247.20"/><path d="M244.80 375.5H250.20M244.80 387.5H250.20"/><path d="M247.80 361.5H253.20M247.80 384.5H253.20"/><path d="M250.80 368.5H256.20M250.80 384.5H256.20"/><path d="M252.80 361.5H258.20M252.80 376.5H258.20"/><path d="M255.80 353.5H261.20M255.80 376.5H261.20"/><path d="M258.80 371.5H264.20M258.80 392.5H264.20"/><path d="M261.80 377.5H267.20M261.80 392.5H267.20"/><path d="M264.80 379.5H270.20M264.80 390.5H270.20"/><path d="M267.80 373.5H273.20M267.80 388.5H273.20"/><path d="M269.80 375.5H275.20M269.80 388.5H275.20"/><path d="M272.80 378.5H278.20M272.80 389.5H278.20"/><path d="M275.80 352.5H281.20M275.80 378.5H281.20"/><path d="M278.80 359.5H284.20M278.80 381.5H284.20"/><path d="M281.80 361.5H287.20M281.80 380.5H287.20"/><path d="M284.80 370.5H290.20M284.80 384.5H290.20"/><path d="M286.80 363.5H292.20M286.80 379.5H292.20"/><path d="M289.80 360.5H295.20M289.80 379.5H295.20"/><path d="M292.80 365.5H298.20M292.80 383.5H298.20"/><path d="M295.80 349.5H301.20M295.80 370.5H301.20"/><path d="M298.80 332.5H304.20M298.80 354.5H304.20"/><path d="M301.80 320.5H307.20M301.80 345.5H307.20"/><path d="M304.80 257.5H310.20M304.80 339.5H310.20"/><path d="M306.80 280.5H312.20M306.80 332.5H312.20"/><path d="M309.80 330.5H315.20M309.80 350.5H315.20"/><path d="M312.80 304.5H318.20M312.80 330.5H318.20"/><path d="M315.80 331.5H321.20M315.80 359.5H321.20"/><path d="M318.80 327.5H324.20M318.80 357.5H324.20"/><path d="M321.80 323.5H327.20M321.80 333.5H327.20"/><path d="M323.80 332.5H329.20M323.80 358.5H329.20"/><path d="M326.80 332.5H332.20M326.80 362.5H332.20"/><path d="M329.80 329.5H335.20M329.80 351.5H335.20"/><path d="M332.80 276.5H338.20M332.80 344.5H338.20"/><path d="M335.80 283.5H341.20M335.80 341.5H341.20"/><path d="M338.80 303.5H344.20M338.80 336.5H344.20"/><path d="M340.80 302.5H346.20M340.80 343.5H346.20"/><path d="M343.80 298.5H349.20M343.80 333.5H349.20"/><path d="M346.80 296.5H352.20M346.80 342.5H352.20"/><path d="M349.80 305.5H355.20M349.80 346.5H355.20"/><path d="M352.80 328.5H358.20M352.80 341.5H358.20"/><path d="M355.80 258.5H361.20M355.80 341.5H361.20"/><path d="M358.80 252.5H364.20M358.80 312.5H364.20"/><path d="M360.80 242.5H366.20M360.80 310.5H366.20"/><path d="M363.80 215.5H369.20M363.80 282.5H369.20"/><path d="M366.80 224.5H372.20M366.80 238.5H372.20"/><path d="M369.80 216.5H375.20M369.80 304.5H375.20"/><path d="M372.80 183.5H378.20M372.80 289.5H378.20"/><path d="M375.80 241.5H381.20M375.80 305.5H381.20"/><path d="M377.80 278.5H383.20M377.80 319.5H383.20"/><path d="M380.80 273.5H386.20M380.80 325.5H386.20"/><path d="M383.80 288.5H389.20M383.80 329.5H389.20"/><path d="M386.80 267.5H392.20M386.80 337.5H392.20"/><path d="M389.80 257.5H395.20M389.80 320.5H395.20"/><path d="M392.80 285.5H398.20M392.80 315.5H398.20"/><path d="M394.80 300.5H400.20M394.80 330.5H400.20"/><path d="M397.80 309.5H403.20M397.80 341.5H403.20"/><path d="M400.80 295.5H406.20M400.80 331.5H406.20"/><path d="M403.80 270.5H409.20M403.80 338.5H409.20"/><path d="M406.80 295.5H412.20M406.80 345.5H412.20"/><path d="M409.80 268.5H415.20M409.80 340.5H415.20"/><path d="M412.80 333.5H418.20M412.80 337.5H418.20"/><path d="M414.80 313.5H420.20M414.80 345.5H420.20"/><path d="M417.80 309.5H423.20M417.80 363.5H423.20"/><path d="M420.80 340.5H426.20M420.80 368.5H426.20"/><path d="M423.80 338.5H429.20M423.80 356.5H429.20"/><path d="M426.80 348.5H432.20M426.80 368.5H432.20"/><path d="M429.80 358.5H435.20M429.80 374.5H435.20"/><path d="M431.80 357.5H437.20M431.80 376.5H437.20"/><path d="M434.80 350.5H440.20M434.80 376.5H440.20"/><path d="M437.80 346.5H443.20M437.80 372.5H443.20"/><path d="M440.80 366.5H446.20M440.80 382.5H446.20"/><path d="M443.80 368.5H449.20M443.80 382.5H449.20"/><path d="M446.80 352.5H452.20M446.80 373.5H452.20"/><path d="M448.80 339.5H454.20M448.80 369.5H454.20"/><path d="M451.80 333.5H457.20M451.80 369.5H457.20"/><path d="M454.80 331.5H460.20M454.80 352.5H460.20"/><path d="M457.80 346.5H463.20M457.80 368.5H463.20"/><path d="M460.80 338.5H466.20M460.80 352.5H466.20"/><path d="M463.80 318.5H469.20M463.80 359.5H469.20"/><path d="M466.80 330.5H472.20M466.80 357.5H472.20"/><path d="M468.80 296.5H474.20M468.80 344.5H474.20"/><path d="M471.80 326.5H477.20M471.80 338.5H477.20"/><path d="M474.80 335.5H480.20M474.80 373.5H480.20"/><path d="M477.80 349.5H483.20M477.80 364.5H483.20"/><path d="M480.80 347.5H486.20M480.80 370.5H486.20"/><path d="M483.80 343.5H489.20M483.80 366.5H489.20"/><path d="M485.80 356.5H491.20M485.80 373.5H491.20"/><path d="M488.80 361.5H494.20M488.80 376.5H494.20"/><path d="M491.80 364.5H497.20M491.80 383.5H497.20"/><path d="M494.80 352.5H500.20M494.80 376.5H500.20"/><path d="M497.80 361.5H503.20M497.80 384.5H503.20"/><path d="M500.80 370.5H506.20M500.80 379.5H506.20"/><path d="M502.80 365.5H508.20M502.80 379.5H508.20"/><path d="M505.80 360.5H511.20M505.80 380.5H511.20"/><path d="M508.80 378.5H514.20M508.80 386.5H514.20"/><path d="M511.80 381.5H517.20M511.80 391.5H517.20"/><path d="M514.80 384.5H520.20M514.80 393.5H520.20"/><path d="M517.80 386.5H523.20M517.80 393.5H523.20"/><path d="M519.80 376.5H525.20M519.80 383.5H525.20"/><path d="M522.80 362.5H528.20M522.80 383.5H528.20"/><path d="M525.80 382.5H531.20M525.80 393.5H531.20"/><path d="M528.80 385.5H534.20M528.80 394.5H534.20"/><path d="M531.80 387.5H537.20M531.80 394.5H537.20"/><path d="M534.80 380.5H540.20M534.80 395.5H540.20"/><path d="M537.80 380.5H543.20M537.80 398.5H543.20"/><path d="M539.80 394.5H545.20M539.80 399.5H545.20"/><path d="M542.80 387.5H548.20M542.80 394.5H548.20"/><path d="M545.80 387.5H551.20M545.80 397.5H551.20"/><path d="M548.80 388.5H554.20M548.80 397.5H554.20"/><path d="M551.80 384.5H557.20M551.80 395.5H557.20"/><path d="M554.80 393.5H560.20M554.80 399.5H560.20"/><path d="M556.80 392.5H562.20M556.80 399.5H562.20"/><path d="M559.80 397.5H565.20M559.80 401.5H565.20"/><path d="M562.80 397.5H568.20M562.80 401.5H568.20"/><path d="M565.80 397.5H571.20M565.80 402.5H571.20"/><path d="M568.80 397.5H574.20M568.80 401.5H574.20"/><path d="M571.80 397.5H577.20M571.80 402.5H577.20"/><path d="M573.80 396.5H579.20M573.80 402.5H579.20"/><path d="M576.80 397.5H582.20M576.80 401.5H582.20"/><path d="M579.80 394.5H585.20M579.80 402.5H585.20"/><path d="M582.80 397.5H588.20M582.80 401.5H588.20"/><path d="M585.80 397.5H591.20M585.80 402.5H591.20"/><path d="M588.80 396.5H594.20M588.80 401.5H594.20"/><path d="M591.80 397.5H597.20M591.80 401.5H597.20"/><path d="M593.80 397.5H599.20M593.80 402.5H599.20"/><path d="M596.80 397.5H602.20M596.80 400.5H602.20"/><path d="M599.80 395.5H605.20M599.80 401.5H605.20"/><path d="M602.80 396.5H608.20M602.80 400.5H608.20"/><path d="M605.80 396.5H611.20M605.80 401.5H611.20"/><path d="M608.80 396.5H614.20M608.80 399.5H614.20"/><path d="M610.80 392.5H616.20M610.80 399.5H616.20"/><path d="M613.80 392.5H619.20M613.80 397.5H619.20"/><path d="M616.80 392.5H622.20M616.80 397.5H622.20"/><path d="M619.80 387.5H625.20M619.80 398.5H625.20"/><path d="M622.80 390.5H628.20M622.80 398.5H628.20"/><path d="M625.80 382.5H631.20M625.80 394.5H631.20"/><path d="M627.80 380.5H633.20M627.80 388.5H633.20"/><path d="M630.80 356.5H636.20M630.80 384.5H636.20"/><path d="M633.80 346.5H639.20M633.80 373.5H639.20"/><path d="M636.80 336.5H642.20M636.80 371.5H642.20"/><path d="M639.80 333.5H645.20M639.80 372.5H645.20"/><path d="M642.80 327.5H648.20M642.80 373.5H648.20"/><path d="M645.80 363.5H651.20M645.80 377.5H651.20"/><path d="M647.80 361.5H653.20M647.80 382.5H653.20"/><path d="M650.80 346.5H656.20M650.80 367.5H656.20"/><path d="M653.80 343.5H659.20M653.80 360.5H659.20"/><path d="M656.80 351.5H662.20M656.80 365.5H662.20"/><path d="M659.80 347.5H665.20M659.80 376.5H665.20"/><path d="M662.80 350.5H668.20M662.80 374.5H668.20"/><path d="M664.80 365.5H670.20M664.80 378.5H670.20"/><path d="M667.80 362.5H673.20M667.80 379.5H673.20"/><path d="M670.80 342.5H676.20M670.80 379.5H676.20"/></g>
<path d="M84 11.5H676" stroke="#2a2a2a" stroke-width="1" fill="none"/>
<path d="M84.5 11V405" stroke="#8a8a8a" stroke-width="1" fill="none"/>
<path d="M675.5 11V405" stroke="#a0a0a0" stroke-width="1" fill="none"/>
<path d="M84 404.5H96" stroke="#606060" stroke-width="1" fill="none"/>
<g font-size="9.6" fill="#333" stroke="#333" stroke-width="0.15"><text x="69.9" y="407.5" textLength="4.9" lengthAdjust="spacingAndGlyphs">0</text><text x="65.0" y="342.0" textLength="9.8" lengthAdjust="spacingAndGlyphs">50</text><text x="60.0" y="277.0" textLength="14.8" lengthAdjust="spacingAndGlyphs">100</text><text x="60.0" y="211.0" textLength="14.8" lengthAdjust="spacingAndGlyphs">150</text><text x="60.0" y="145.0" textLength="14.8" lengthAdjust="spacingAndGlyphs">200</text><text x="60.0" y="80.0" textLength="14.8" lengthAdjust="spacingAndGlyphs">250</text><text x="60.0" y="14.0" textLength="14.8" lengthAdjust="spacingAndGlyphs">300</text></g>
<g font-size="7.8" fill="#262626" stroke="#262626" stroke-width="0.25"><text transform="translate(88.12,411) rotate(-90) scale(0.94,1)" text-anchor="end">5-Οκτ</text><text transform="translate(96.64,411) rotate(-90) scale(0.94,1)" text-anchor="end">14-Οκτ</text><text transform="translate(105.17,411) rotate(-90) scale(0.94,1)" text-anchor="end">21-Οκτ</text><text transform="translate(113.69,411) rotate(-90) scale(0.94,1)" text-anchor="end">28-Οκτ</text><text transform="translate(122.22,411) rotate(-90) scale(0.94,1)" text-anchor="end">4-Νοε</text><text transform="translate(130.74,411) rotate(-90) scale(0.94,1)" text-anchor="end">11-Νοε</text><text transform="translate(139.26,411) rotate(-90) scale(0.94,1)" text-anchor="end">18-Νοε</text><text transform="translate(147.79,411) rotate(-90) scale(0.94,1)" text-anchor="end">25-Νοε</text><text transform="translate(156.31,411) rotate(-90) scale(0.94,1)" text-anchor="end">02-Δεκ</text><text transform="translate(164.84,411) rotate(-90) scale(0.94,1)" text-anchor="end">09-Δεκ</text><text transform="translate(173.36,411) rotate(-90) scale(0.94,1)" text-anchor="end">16-Δεκ</text><text transform="translate(181.89,411) rotate(-90) scale(0.94,1)" text-anchor="end">23-Δεκ</text><text transform="translate(190.41,411) rotate(-90) scale(0.94,1)" text-anchor="end">30-Δεκ</text><text transform="translate(198.93,411) rotate(-90) scale(0.94,1)" text-anchor="end">6-Ιαν</text><text transform="translate(207.46,411) rotate(-90) scale(0.94,1)" text-anchor="end">13-Ιαν</text><text transform="translate(215.98,411) rotate(-90) scale(0.94,1)" text-anchor="end">20-Ιαν</text><text transform="translate(224.51,411) rotate(-90) scale(0.94,1)" text-anchor="end">27-Ιαν</text><text transform="translate(233.03,411) rotate(-90) scale(0.94,1)" text-anchor="end">03-Φεβ</text><text transform="translate(241.55,411) rotate(-90) scale(0.94,1)" text-anchor="end">08-Φεβ</text><text transform="translate(250.08,411) rotate(-90) scale(0.94,1)" text-anchor="end">11-Φεβ</text><text transform="translate(258.60,411) rotate(-90) scale(0.94,1)" text-anchor="end">15-Φεβ</text><text transform="translate(267.13,411) rotate(-90) scale(0.94,1)" text-anchor="end">18-Φεβ</text><text transform="translate(275.65,411) rotate(-90) scale(0.94,1)" text-anchor="end">22-Φεβ</text><text transform="translate(284.17,411) rotate(-90) scale(0.94,1)" text-anchor="end">25-Φεβ</text><text transform="translate(292.70,411) rotate(-90) scale(0.94,1)" text-anchor="end">01-Μαρ</text><text transform="translate(301.22,411) rotate(-90) scale(0.94,1)" text-anchor="end">04-Μαρ</text><text transform="translate(309.75,411) rotate(-90) scale(0.94,1)" text-anchor="end">08-Μαρ</text><text transform="translate(318.27,411) rotate(-90) scale(0.94,1)" text-anchor="end">11-Μαρ</text><text transform="translate(326.79,411) rotate(-90) scale(0.94,1)" text-anchor="end">15-Μαρ</text><text transform="translate(335.32,411) rotate(-90) scale(0.94,1)" text-anchor="end">18-Μαρ</text><text transform="translate(343.84,411) rotate(-90) scale(0.94,1)" text-anchor="end">22-Μαρ</text><text transform="translate(352.37,411) rotate(-90) scale(0.94,1)" text-anchor="end">25-Μαρ</text><text transform="translate(360.89,411) rotate(-90) scale(0.94,1)" text-anchor="end">29-Μαρ</text><text transform="translate(369.41,411) rotate(-90) scale(0.94,1)" text-anchor="end">01-Απρ</text><text transform="translate(377.94,411) rotate(-90) scale(0.94,1)" text-anchor="end">05-Απρ</text><text transform="translate(386.46,411) rotate(-90) scale(0.94,1)" text-anchor="end">08-Απρ</text><text transform="translate(394.99,411) rotate(-90) scale(0.94,1)" text-anchor="end">12-Απρ</text><text transform="translate(403.51,411) rotate(-90) scale(0.94,1)" text-anchor="end">15-Απρ</text><text transform="translate(412.03,411) rotate(-90) scale(0.94,1)" text-anchor="end">19-Απρ</text><text transform="translate(420.56,411) rotate(-90) scale(0.94,1)" text-anchor="end">22-Απρ</text><text transform="translate(429.08,411) rotate(-90) scale(0.94,1)" text-anchor="end">26-Απρ</text><text transform="translate(437.61,411) rotate(-90) scale(0.94,1)" text-anchor="end">29-Απρ</text><text transform="translate(446.13,411) rotate(-90) scale(0.94,1)" text-anchor="end">03-Μαϊ</text><text transform="translate(454.65,411) rotate(-90) scale(0.94,1)" text-anchor="end">06-Μαϊ</text><text transform="translate(463.18,411) rotate(-90) scale(0.94,1)" text-anchor="end">09-Μαϊ</text><text transform="translate(471.70,411) rotate(-90) scale(0.94,1)" text-anchor="end">12-Μαϊ</text><text transform="translate(480.23,411) rotate(-90) scale(0.94,1)" text-anchor="end">16-Μαϊ</text><text transform="translate(488.75,411) rotate(-90) scale(0.94,1)" text-anchor="end">19-Μαϊ</text><text transform="translate(497.27,411) rotate(-90) scale(0.94,1)" text-anchor="end">23-Μαϊ</text><text transform="translate(505.80,411) rotate(-90) scale(0.94,1)" text-anchor="end">26-Μαϊ</text><text transform="translate(514.32,411) rotate(-90) scale(0.94,1)" text-anchor="end">30-Μαϊ</text><text transform="translate(522.85,411) rotate(-90) scale(0.94,1)" text-anchor="end">02-Ιουν</text><text transform="translate(531.37,411) rotate(-90) scale(0.94,1)" text-anchor="end">06-Ιουν</text><text transform="translate(539.89,411) rotate(-90) scale(0.94,1)" text-anchor="end">09-Ιουν</text><text transform="translate(548.42,411) rotate(-90) scale(0.94,1)" text-anchor="end">12-Ιουν</text><text transform="translate(556.94,411) rotate(-90) scale(0.94,1)" text-anchor="end">15-Ιουν</text><text transform="translate(565.47,411) rotate(-90) scale(0.94,1)" text-anchor="end">18-Ιουν</text><text transform="translate(573.99,411) rotate(-90) scale(0.94,1)" text-anchor="end">21-Ιουν</text><text transform="translate(582.51,411) rotate(-90) scale(0.94,1)" text-anchor="end">24-Ιουν</text><text transform="translate(591.04,411) rotate(-90) scale(0.94,1)" text-anchor="end">27-Ιουν</text><text transform="translate(599.56,411) rotate(-90) scale(0.94,1)" text-anchor="end">30-Ιουν</text><text transform="translate(608.09,411) rotate(-90) scale(0.94,1)" text-anchor="end">03-Ιουλ</text><text transform="translate(616.61,411) rotate(-90) scale(0.94,1)" text-anchor="end">06-Ιουλ</text><text transform="translate(625.14,411) rotate(-90) scale(0.94,1)" text-anchor="end">09-Ιουλ</text><text transform="translate(633.66,411) rotate(-90) scale(0.94,1)" text-anchor="end">12-Ιουλ</text><text transform="translate(642.18,411) rotate(-90) scale(0.94,1)" text-anchor="end">15-Ιουλ</text><text transform="translate(650.71,411) rotate(-90) scale(0.94,1)" text-anchor="end">18-Ιουλ</text><text transform="translate(659.23,411) rotate(-90) scale(0.94,1)" text-anchor="end">21-Ιουλ</text><text transform="translate(667.76,411) rotate(-90) scale(0.94,1)" text-anchor="end">24-Ιουλ</text><text transform="translate(676.28,411) rotate(-90) scale(0.94,1)" text-anchor="end">27-Ιουλ</text></g>
<text transform="translate(27.2,205.3) rotate(-90)" text-anchor="middle" font-size="13.6" letter-spacing="0.2" font-weight="bold" fill="#111">Σχετικός Ρυθμός Έκκρισης Ιικού Φορτίου</text>
<text x="376.5" y="473" text-anchor="middle" font-size="14.6" font-weight="bold" fill="#111">Ημερομηνία</text>
<rect x="0.5" y="0.5" width="684" height="496" fill="none" stroke="#2a2a2a" stroke-width="1"/>
</svg>
</body></html>
